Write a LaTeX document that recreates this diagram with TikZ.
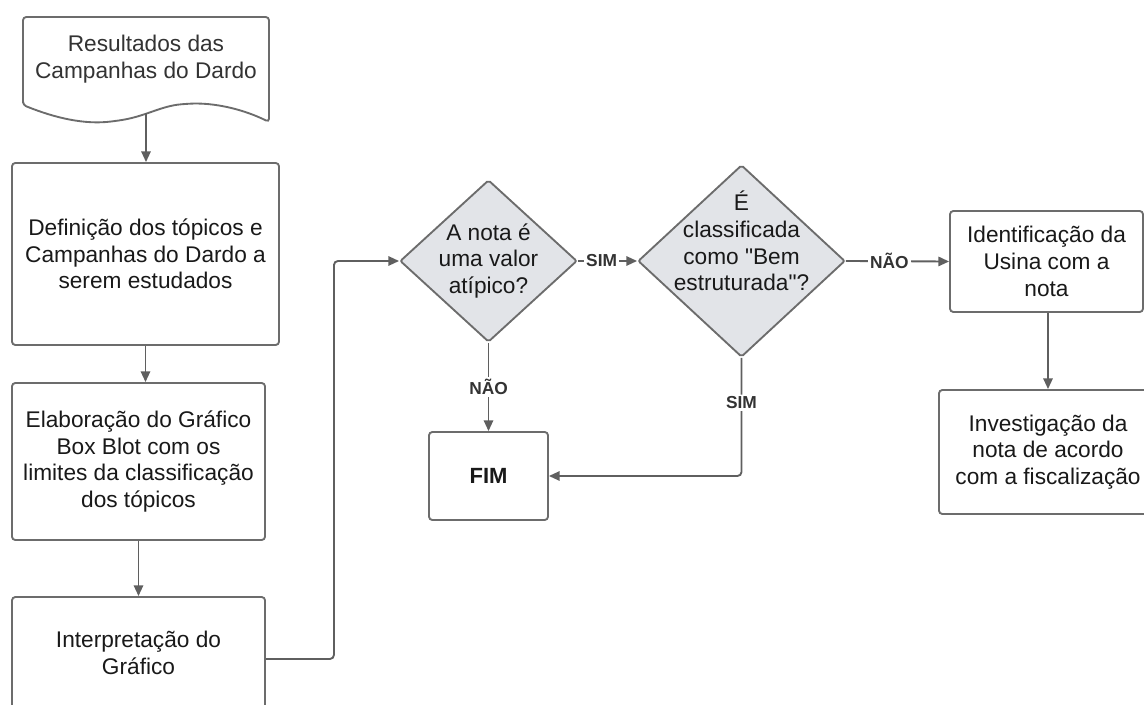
\documentclass[tikz,border=0pt]{standalone}
\usepackage{fontspec}
\setmainfont{Liberation Sans}
\usepackage{tikz}
\usetikzlibrary{arrows.meta,shapes.geometric}
\definecolor{linegray}{RGB}{95,95,95}
\definecolor{boxgray}{RGB}{108,108,108}
\definecolor{diamondfill}{RGB}{226,228,232}
\tikzstyle{process} = [rectangle, rounded corners=2.5pt, draw=boxgray, line width=1.4pt, fill=white, align=center, text=black!90, font=\fontsize{17}{20}\selectfont]
\tikzstyle{decision} = [diamond, draw=boxgray, line width=1.4pt, fill=diamondfill, inner sep=0pt, rounded corners=1.5pt]
\tikzstyle{dectext} = [align=center, text=black!90, font=\fontsize{17}{20}\selectfont]
\tikzstyle{line} = [draw=linegray, line width=1.4pt, -{Triangle[length=8pt,width=7pt]}]
\tikzstyle{answer} = [fill=white, inner sep=1.5pt, text=black!80, font=\fontsize{13}{15}\selectfont\bfseries]

\begin{document}
\begin{tikzpicture}[x=0.75pt, y=-0.75pt]
  \useasboundingbox (0,0) rectangle (1144,705);

  % documento de entrada
  \draw[draw=boxgray, line width=1.4pt, fill=white, rounded corners=2.5pt]
    (23,105) -- (23,17) -- (269,17) -- (269,122)
    .. controls (245,110) and (215,102) .. (185,104)
    .. controls (160,106) and (145,117) .. (115,121)
    .. controls (85,125) and (55,118) .. (23,105) -- cycle;
  \node (res) at (146,59) [align=center, text=black!80, font=\fontsize{17}{20}\selectfont] {Resultados das\\Campanhas do Dardo};
  \coordinate (resbot) at (146,113);

  % coluna da esquerda
  \node (def) at (145.5,254) [process, minimum width=200.25pt, minimum height=136.5pt] {Definição dos tópicos e\\Campanhas do Dardo a\\serem estudados};
  \node (elab) at (138.5,461.5) [process, minimum width=189.75pt, minimum height=117.75pt] {Elaboração do Gráfico\\Box Blot com os\\limites da classificação\\dos tópicos};
  \node (interp) at (138.5,653) [process, minimum width=189.75pt, minimum height=84pt] {Interpretação do\\Gráfico};

  % decisões
  \node (dec1) at (488.5,261) [decision, minimum width=132.75pt, minimum height=121.5pt,
    label={[dectext]center:{A nota é\\uma valor\\atípico?}}] {};
  \node (dec2) at (741.5,261) [decision, minimum width=155.25pt, minimum height=144pt,
    label={[dectext, yshift=15pt]center:{É\\classificada\\como \textquotedbl Bem\\estruturada\textquotedbl ?}}] {};

  \node (fim) at (488.5,476) [process, minimum width=89.25pt, minimum height=66pt, font=\fontsize{16.5}{18}\selectfont\bfseries] {FIM};

  % coluna da direita
  \node (ident) at (1046.5,261.5) [process, minimum width=144.75pt, minimum height=75.75pt] {Identificação da\\Usina com a\\nota};
  \node (invest) at (1048,452) [process, minimum width=163.5pt, minimum height=93pt] {Investigação da\\nota de acordo\\com a fiscalização};

  % conexões
  \draw[line] (resbot) -- (def.north -| resbot);
  \draw[line] (def.south) -- (def.south |- elab.north);
  \draw[line] (elab.south) -- (interp.north);
  \draw[line, rounded corners=3pt] ([yshift=-4.5pt]interp.east) -- ++(68,0) |- (dec1.west);
  \draw[line] (dec1.east) -- node[answer, pos=0.4] {SIM} (dec2.west);
  \draw[line] (dec1.south) -- node[answer] {NÃO} (fim.north);
  \draw[line, rounded corners=3pt] (dec2.south) |- node[answer, pos=0.19] {SIM} (fim.east);
  \draw[line] (dec2.east) -- node[answer, pos=0.42] {NÃO} (ident.west);
  \draw[line] (ident.south -| invest.north) -- (invest.north);
\end{tikzpicture}
\end{document}
